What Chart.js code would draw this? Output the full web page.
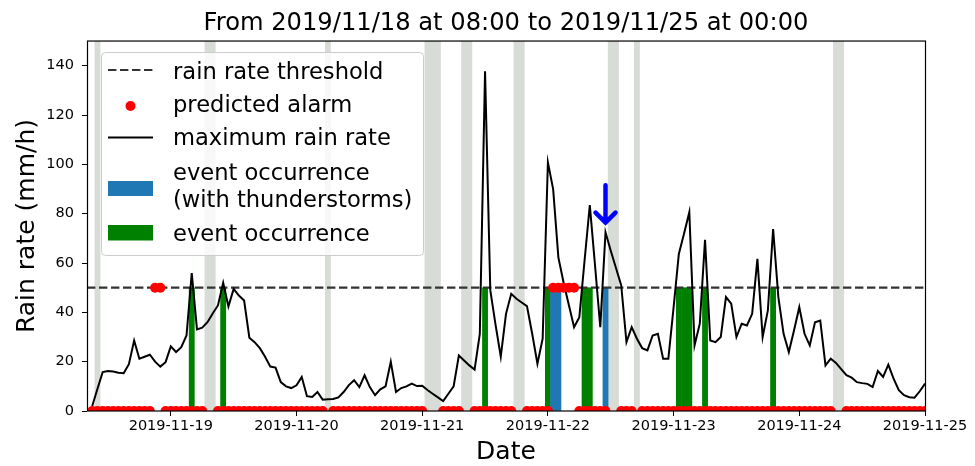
<!DOCTYPE html>
<html>
<head>
<meta charset="utf-8">
<script src="https://cdn.jsdelivr.net/npm/chart.js@4.4.1/dist/chart.umd.min.js"></script>
<style>
  html, body { margin: 0; padding: 0; background: #fff; }
</style>
</head>
<body>
<canvas id="myChart" width="975" height="466"></canvas>
<script>
// x values are hours counted from 2019-11-18 00:00
const startHour = 8;   // 2019-11-18 08:00
const endHour = 168;   // 2019-11-25 00:00
const firstHour = 9;   // first hourly value of the rain rate series
const threshold = 50;

const xTickHours = [24, 48, 72, 96, 120, 144, 168];
const xTickLabels = ["2019-11-19", "2019-11-20", "2019-11-21", "2019-11-22", "2019-11-23", "2019-11-24", "2019-11-25"];

// maximum rain rate (mm/h), one value per hour from 09:00 on 2019-11-18
const maxRainRate = [
  2, 9, 15.8, 16.2, 16, 15.5, 15.3, 19, 28.6, 21.2, 22, 22.8, 20, 18, 19.8,        // h9-23
  26.2, 23.9, 25.9, 30.6, 55.9, 33.1, 33.8, 36, 39.5, 42.8, 52, 42.4,              // h24-35
  49.5, 46.8, 44.8, 29.7, 27.9, 25.5, 22, 18, 17.6, 11.7, 10, 9.3,                 // h36-47
  10.4, 13.8, 6, 5.7, 7.7, 4.6, 4.8, 4.9, 5.5, 7.7, 10.5, 12.5,                    // h48-59
  9.7, 14.5, 9.7, 6.4, 8.8, 10, 20, 7.7, 9.3, 10, 11.1, 10.1,                      // h60-71
  10.2, 8.5, 7, 5.5, 4, 7, 10, 22.5, 20.5, 18.5, 16.8, 31.3,                       // h72-83
  137.7, 49, 35, 22, 39.4, 47.5, 45.5, 44, 42.5, 31.3, 19.2, 29.3,                 // h84-95
  100.8, 90, 62.3, 52, 43, 34, 38, 61, 83.5, 59, 34, 72.5,                         // h96-107
  65, 58, 50.9, 27.9, 34, 29.3, 25.5, 24.6, 30.6, 31.3, 21.2, 21.2,                // h108-119
  42, 63.7, 72, 80.6, 26.6, 35.4, 69.4, 28.6, 27.9, 30, 46.2, 43.5,                // h120-131
  30, 35.4, 34.7, 39.4, 61.7, 30, 40.8, 73.8, 46.2, 31.3, 23.9, 32.7,              // h132-143
  42.1, 31.3, 26.6, 36, 36.7, 18.5, 21.2, 19.5, 17, 14.5, 13.5, 11.7,              // h144-155
  11.3, 11, 9.7, 16.2, 13.8, 18.8, 13.1, 8.4, 6.4, 5.6, 5.4, 8, 11.1               // h156-168
];

// hours with a predicted alarm, and hours without a prediction
const alarmHours = [21, 22, 97, 98, 99, 100, 101];
const noPredictionHours = [31, 32, 54, 73, 74, 75, 80, 81, 90, 91, 108, 109, 113, 151, 152];

// shaded hours (light grey bands)
const grayHours = [10, 31, 32, 54, 73, 74, 75, 80, 81, 90, 91, 108, 109, 113, 151, 152];

// event occurrence hours
const eventHours = [28, 34, 84, 96, 103, 104, 121, 122, 123, 126, 139];
const thunderHours = [97, 98, 107];

// blue arrow annotation (hour, from value, to value)
const arrowHour = 107;
const arrowFrom = 91.5;
const arrowTo = 76;

const rainPoints = maxRainRate.map((v, i) => ({ x: firstHour + i, y: v }));
const alarmPoints = [];
for (let h = firstHour; h <= endHour; h++) {
  if (noPredictionHours.includes(h)) continue;
  alarmPoints.push({ x: h, y: alarmHours.includes(h) ? threshold : 0 });
}

const FONT = "'DejaVu Sans', sans-serif";
Chart.defaults.font.family = FONT;
Chart.defaults.color = "#000";

const overlay = {
  id: "overlay",
  afterDatasetsDraw(chart) {
    const { ctx, chartArea: a, scales } = chart;
    ctx.save();
    // arrow
    const ax = scales.x.getPixelForValue(arrowHour);
    const ay0 = scales.y.getPixelForValue(arrowFrom);
    const ay1 = scales.y.getPixelForValue(arrowTo);
    ctx.strokeStyle = "#0000ff";
    ctx.lineWidth = 4.5;
    ctx.lineCap = "round";
    ctx.beginPath();
    ctx.moveTo(ax, ay0);
    ctx.lineTo(ax, ay1 - 1);
    ctx.moveTo(ax - 10, ay1 - 11);
    ctx.lineTo(ax, ay1 - 1);
    ctx.lineTo(ax + 10, ay1 - 11);
    ctx.stroke();
    // axes frame
    ctx.strokeStyle = "#000";
    ctx.lineWidth = 1.2;
    ctx.lineCap = "butt";
    ctx.strokeRect(a.left + 0.5, a.top, a.width, a.bottom - a.top);
    ctx.restore();
  },
  afterDraw(chart) {
    const { ctx } = chart;
    ctx.save();
    // legend box
    const bx = 101, by = 52, bw = 322, bh = 203, r = 4;
    ctx.beginPath();
    ctx.roundRect(bx + 0.5, by + 0.5, bw, bh, r);
    ctx.fillStyle = "rgba(255,255,255,0.8)";
    ctx.fill();
    ctx.strokeStyle = "#cccccc";
    ctx.lineWidth = 1;
    ctx.stroke();

    const hx0 = 108, hx1 = 153, tx = 173;
    // threshold
    ctx.strokeStyle = "#333";
    ctx.lineWidth = 2.2;
    ctx.setLineDash([8.4, 3.6]);
    ctx.beginPath();
    ctx.moveTo(hx0, 70); ctx.lineTo(hx1, 70);
    ctx.stroke();
    ctx.setLineDash([]);
    // alarm dot
    ctx.fillStyle = "#ff0000";
    ctx.beginPath();
    ctx.arc((hx0 + hx1) / 2, 106, 5, 0, Math.PI * 2);
    ctx.fill();
    // rain line
    ctx.strokeStyle = "#000";
    ctx.lineWidth = 2.2;
    ctx.beginPath();
    ctx.moveTo(hx0, 137.5); ctx.lineTo(hx1, 137.5);
    ctx.stroke();
    // patches
    ctx.fillStyle = "#1f77b4";
    ctx.fillRect(hx0, 181, hx1 - hx0, 15);
    ctx.fillStyle = "#008000";
    ctx.fillRect(hx0, 225, hx1 - hx0, 15.5);

    ctx.fillStyle = "#000";
    ctx.font = "22.6px " + FONT;
    ctx.textBaseline = "alphabetic";
    ctx.textAlign = "left";
    ctx.fillText("rain rate threshold", tx, 79);
    ctx.fillText("predicted alarm", tx, 112);
    ctx.fillText("maximum rain rate", tx, 145);
    ctx.fillText("event occurrence", tx, 180);
    ctx.fillText("(with thunderstorms)", tx, 206.5);
    ctx.fillText("event occurrence", tx, 241);
    ctx.restore();
  }
};

// one hour wide bars
const hourWidth = (c) => {
  const x = c.chart.scales.x;
  return x ? Math.abs(x.getPixelForValue(1) - x.getPixelForValue(0)) : 5;
};

const barCommon = {
  type: "bar",
  borderWidth: 0,
  barThickness: hourWidth,
  barPercentage: 1,
  categoryPercentage: 1,
  grouped: false,
  inflateAmount: 0.3
};

new Chart(document.getElementById("myChart"), {
  type: "line",
  data: {
    datasets: [
      {
        label: "predicted alarm",
        data: alarmPoints,
        showLine: false,
        pointRadius: 5,
        pointHoverRadius: 5,
        pointBorderWidth: 0,
        pointBackgroundColor: "#ff0000",
        borderColor: "#ff0000",
        clip: 0,
        order: 0
      },
      {
        label: "maximum rain rate",
        data: rainPoints,
        borderColor: "#000",
        borderWidth: 2,
        pointRadius: 0,
        tension: 0,
        order: 1
      },
      {
        label: "rain rate threshold",
        data: [{ x: startHour, y: threshold }, { x: endHour, y: threshold }],
        borderColor: "#333",
        borderWidth: 2.2,
        borderDash: [8.4, 3.6],
        pointRadius: 0,
        order: 2
      },
      Object.assign({}, barCommon, {
        label: "event occurrence (with thunderstorms)",
        data: thunderHours.map(h => ({ x: h, y: threshold })),
        backgroundColor: "#1f77b4",
        order: 3
      }),
      Object.assign({}, barCommon, {
        label: "event occurrence",
        data: eventHours.map(h => ({ x: h, y: threshold })),
        backgroundColor: "#008000",
        order: 3
      }),
      Object.assign({}, barCommon, {
        label: "shade",
        data: grayHours.map(h => ({ x: h, y: 150 })),
        backgroundColor: "#d8dcd6",
        order: 4
      })
    ]
  },
  options: {
    responsive: false,
    animation: false,
    layout: { padding: { left: 0, right: 50, top: 0, bottom: 0 } },
    plugins: {
      legend: { display: false },
      tooltip: { enabled: false },
      title: {
        display: true,
        fullSize: false,
        text: "From 2019/11/18 at 08:00 to 2019/11/25 at 00:00",
        font: { size: 24.2, weight: "normal", lineHeight: 1.2 },
        color: "#000",
        padding: { top: 9, bottom: 3 }
      }
    },
    scales: {
      x: {
        type: "linear",
        min: startHour,
        max: endHour,
        offset: false,
        grid: { offset: false, drawOnChartArea: false, drawTicks: true, tickLength: 5, color: "#000" },
        border: { display: false },
        afterBuildTicks: (scale) => { scale.ticks = xTickHours.map(v => ({ value: v })); },
        afterFit: (scale) => { scale.height = 55; },
        ticks: {
          autoSkip: false,
          maxRotation: 0,
          padding: 2,
          font: { size: 14.5 },
          color: "#000",
          callback: (value) => xTickLabels[xTickHours.indexOf(value)]
        },
        title: {
          display: true,
          text: "Date",
          font: { size: 25, lineHeight: 1 },
          color: "#000",
          padding: { top: 0, bottom: 1 }
        }
      },
      y: {
        type: "linear",
        min: 0,
        max: 150,
        grid: { drawOnChartArea: false, drawTicks: true, tickLength: 5, color: "#000" },
        border: { display: false },
        afterFit: (scale) => { scale.width = 87; },
        ticks: {
          stepSize: 20,
          includeBounds: false,
          padding: 8,
          font: { size: 14.5 },
          color: "#000"
        },
        title: {
          display: true,
          text: "Rain rate (mm/h)",
          font: { size: 25, lineHeight: 1 },
          color: "#000",
          padding: { top: 15, bottom: 0 }
        }
      }
    }
  },
  plugins: [overlay]
});
</script>
</body>
</html>
